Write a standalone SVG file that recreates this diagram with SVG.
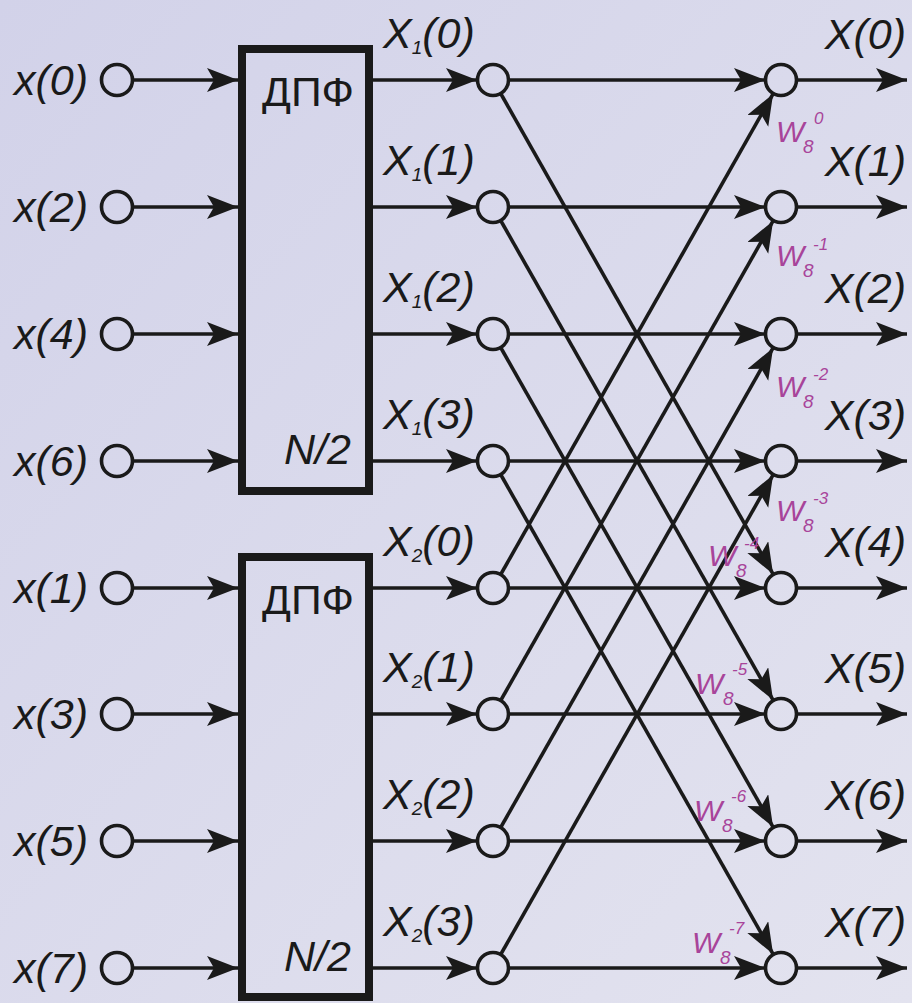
<svg xmlns="http://www.w3.org/2000/svg" width="912" height="1003" viewBox="0 0 912 1003">
<defs>
<linearGradient id="bg" x1="0" y1="0" x2="1" y2="1">
<stop offset="0" stop-color="#d2d2e9"/>
<stop offset="1" stop-color="#e3e3ef"/>
</linearGradient>
<marker id="ah" markerUnits="userSpaceOnUse" markerWidth="32" markerHeight="26" refX="31" refY="12" orient="auto" viewBox="0 0 32 26">
<path d="M0,0 L31,12 L0,24 L7,12 z" fill="#1a1a1a"/>
</marker>
<style>
.ln{stroke:#1a1a1a;stroke-width:3.6;fill:none;marker-end:url(#ah)}
.nd{stroke:#1a1a1a;stroke-width:3.6;fill:none}
.box{stroke:#1a1a1a;stroke-width:8;fill:none}
.t{font-family:"Liberation Sans",Arial,sans-serif;font-style:italic;font-size:43px;fill:#1a1a1a}
.b{font-family:"Liberation Sans",Arial,sans-serif;font-size:40px;fill:#1a1a1a}
.sub{font-size:19px}
.tw{font-family:"Liberation Sans",Arial,sans-serif;font-style:italic;font-size:30px;fill:#a8449a}
.tws{font-size:19px}
.twp{font-size:17px}
</style>
</defs>
<rect width="912" height="1003" fill="url(#bg)"/>

<g id="connectors">
<line class="ln" x1="133" y1="80" x2="238" y2="80"/>
<line class="ln" x1="133" y1="207" x2="238" y2="207"/>
<line class="ln" x1="133" y1="334" x2="238" y2="334"/>
<line class="ln" x1="133" y1="461" x2="238" y2="461"/>
<line class="ln" x1="133" y1="588" x2="238" y2="588"/>
<line class="ln" x1="133" y1="714" x2="238" y2="714"/>
<line class="ln" x1="133" y1="841" x2="238" y2="841"/>
<line class="ln" x1="133" y1="968" x2="238" y2="968"/>
<line class="ln" x1="373" y1="80" x2="477" y2="80"/>
<line class="ln" x1="373" y1="207" x2="477" y2="207"/>
<line class="ln" x1="373" y1="334" x2="477" y2="334"/>
<line class="ln" x1="373" y1="461" x2="477" y2="461"/>
<line class="ln" x1="373" y1="588" x2="477" y2="588"/>
<line class="ln" x1="373" y1="714" x2="477" y2="714"/>
<line class="ln" x1="373" y1="841" x2="477" y2="841"/>
<line class="ln" x1="373" y1="968" x2="477" y2="968"/>
<line class="ln" x1="509" y1="80" x2="765" y2="80"/>
<line class="ln" x1="509" y1="207" x2="765" y2="207"/>
<line class="ln" x1="509" y1="334" x2="765" y2="334"/>
<line class="ln" x1="509" y1="461" x2="765" y2="461"/>
<line class="ln" x1="509" y1="588" x2="765" y2="588"/>
<line class="ln" x1="509" y1="714" x2="765" y2="714"/>
<line class="ln" x1="509" y1="841" x2="765" y2="841"/>
<line class="ln" x1="509" y1="968" x2="765" y2="968"/>
<line class="ln" x1="500.4" y1="93" x2="773.1" y2="574.1"/>
<line class="ln" x1="500.4" y1="220" x2="773.1" y2="700.1"/>
<line class="ln" x1="500.4" y1="347" x2="773.1" y2="827.1"/>
<line class="ln" x1="500.4" y1="474" x2="773.1" y2="954.1"/>
<line class="ln" x1="500.4" y1="575" x2="773.1" y2="93.9"/>
<line class="ln" x1="500.4" y1="701" x2="773.1" y2="220.9"/>
<line class="ln" x1="500.4" y1="828" x2="773.1" y2="347.9"/>
<line class="ln" x1="500.4" y1="955" x2="773.1" y2="474.9"/>
<line class="ln" x1="797" y1="80" x2="907" y2="80"/>
<line class="ln" x1="797" y1="207" x2="907" y2="207"/>
<line class="ln" x1="797" y1="334" x2="907" y2="334"/>
<line class="ln" x1="797" y1="461" x2="907" y2="461"/>
<line class="ln" x1="797" y1="588" x2="907" y2="588"/>
<line class="ln" x1="797" y1="714" x2="907" y2="714"/>
<line class="ln" x1="797" y1="841" x2="907" y2="841"/>
<line class="ln" x1="797" y1="968" x2="907" y2="968"/>
</g>

<g id="inputs">
<g id="in0"><circle class="nd" cx="117" cy="80" r="15.5"/><text class="t" x="14" y="95">x(0)</text></g>
<g id="in2"><circle class="nd" cx="117" cy="207" r="15.5"/><text class="t" x="14" y="222">x(2)</text></g>
<g id="in4"><circle class="nd" cx="117" cy="334" r="15.5"/><text class="t" x="14" y="349">x(4)</text></g>
<g id="in6"><circle class="nd" cx="117" cy="461" r="15.5"/><text class="t" x="14" y="476">x(6)</text></g>
<g id="in1"><circle class="nd" cx="117" cy="588" r="15.5"/><text class="t" x="14" y="603">x(1)</text></g>
<g id="in3"><circle class="nd" cx="117" cy="714" r="15.5"/><text class="t" x="14" y="729">x(3)</text></g>
<g id="in5"><circle class="nd" cx="117" cy="841" r="15.5"/><text class="t" x="14" y="856">x(5)</text></g>
<g id="in7"><circle class="nd" cx="117" cy="968" r="15.5"/><text class="t" x="14" y="983">x(7)</text></g>
</g>

<g id="dft1">
<rect class="box" x="242" y="49" width="127" height="442"/>
<text class="b" x="262" y="106" textLength="92" lengthAdjust="spacingAndGlyphs">ДПФ</text>
<text class="t" x="284" y="464">N/2</text>
</g>
<g id="dft2">
<rect class="box" x="242" y="557" width="127" height="440"/>
<text class="b" x="262" y="614" textLength="92" lengthAdjust="spacingAndGlyphs">ДПФ</text>
<text class="t" x="284" y="971">N/2</text>
</g>

<g id="middle">
<g id="m0"><circle class="nd" cx="493" cy="80" r="15.5"/><text class="t" x="383" y="48">X<tspan class="sub" dy="6">1</tspan><tspan dy="-6">(0)</tspan></text></g>
<g id="m1"><circle class="nd" cx="493" cy="207" r="15.5"/><text class="t" x="383" y="175">X<tspan class="sub" dy="6">1</tspan><tspan dy="-6">(1)</tspan></text></g>
<g id="m2"><circle class="nd" cx="493" cy="334" r="15.5"/><text class="t" x="383" y="302">X<tspan class="sub" dy="6">1</tspan><tspan dy="-6">(2)</tspan></text></g>
<g id="m3"><circle class="nd" cx="493" cy="461" r="15.5"/><text class="t" x="383" y="429">X<tspan class="sub" dy="6">1</tspan><tspan dy="-6">(3)</tspan></text></g>
<g id="m4"><circle class="nd" cx="493" cy="588" r="15.5"/><text class="t" x="383" y="556">X<tspan class="sub" dy="6">2</tspan><tspan dy="-6">(0)</tspan></text></g>
<g id="m5"><circle class="nd" cx="493" cy="714" r="15.5"/><text class="t" x="383" y="682">X<tspan class="sub" dy="6">2</tspan><tspan dy="-6">(1)</tspan></text></g>
<g id="m6"><circle class="nd" cx="493" cy="841" r="15.5"/><text class="t" x="383" y="809">X<tspan class="sub" dy="6">2</tspan><tspan dy="-6">(2)</tspan></text></g>
<g id="m7"><circle class="nd" cx="493" cy="968" r="15.5"/><text class="t" x="383" y="936">X<tspan class="sub" dy="6">2</tspan><tspan dy="-6">(3)</tspan></text></g>
</g>

<g id="outputs">
<g id="o0"><circle class="nd" cx="781" cy="80" r="15.5"/><text class="t" x="906" y="49" text-anchor="end">X(0)</text>
<text class="tw" x="776" y="142">W<tspan class="tws" x="803" y="153">8</tspan><tspan class="twp" x="814" y="124">0</tspan></text></g>
<g id="o1"><circle class="nd" cx="781" cy="207" r="15.5"/><text class="t" x="906" y="176" text-anchor="end">X(1)</text>
<text class="tw" x="776" y="266">W<tspan class="tws" x="803" y="277">8</tspan><tspan class="twp" x="813" y="250">-1</tspan></text></g>
<g id="o2"><circle class="nd" cx="781" cy="334" r="15.5"/><text class="t" x="906" y="303" text-anchor="end">X(2)</text>
<text class="tw" x="776" y="397">W<tspan class="tws" x="803" y="408">8</tspan><tspan class="twp" x="813" y="380">-2</tspan></text></g>
<g id="o3"><circle class="nd" cx="781" cy="461" r="15.5"/><text class="t" x="906" y="430" text-anchor="end">X(3)</text>
<text class="tw" x="776" y="521">W<tspan class="tws" x="803" y="532">8</tspan><tspan class="twp" x="813" y="504">-3</tspan></text></g>
<g id="o4"><circle class="nd" cx="781" cy="588" r="15.5"/><text class="t" x="906" y="557" text-anchor="end">X(4)</text>
<text class="tw" x="708" y="566">W<tspan class="tws" x="736" y="577">8</tspan><tspan class="twp" x="744" y="549">-4</tspan></text></g>
<g id="o5"><circle class="nd" cx="781" cy="714" r="15.5"/><text class="t" x="906" y="683" text-anchor="end">X(5)</text>
<text class="tw" x="695" y="694">W<tspan class="tws" x="723" y="705">8</tspan><tspan class="twp" x="732" y="675">-5</tspan></text></g>
<g id="o6"><circle class="nd" cx="781" cy="841" r="15.5"/><text class="t" x="906" y="810" text-anchor="end">X(6)</text>
<text class="tw" x="694" y="821">W<tspan class="tws" x="722" y="832">8</tspan><tspan class="twp" x="731" y="802">-6</tspan></text></g>
<g id="o7"><circle class="nd" cx="781" cy="968" r="15.5"/><text class="t" x="906" y="937" text-anchor="end">X(7)</text>
<text class="tw" x="692" y="953">W<tspan class="tws" x="720" y="964">8</tspan><tspan class="twp" x="729" y="934">-7</tspan></text></g>
</g>
</svg>
